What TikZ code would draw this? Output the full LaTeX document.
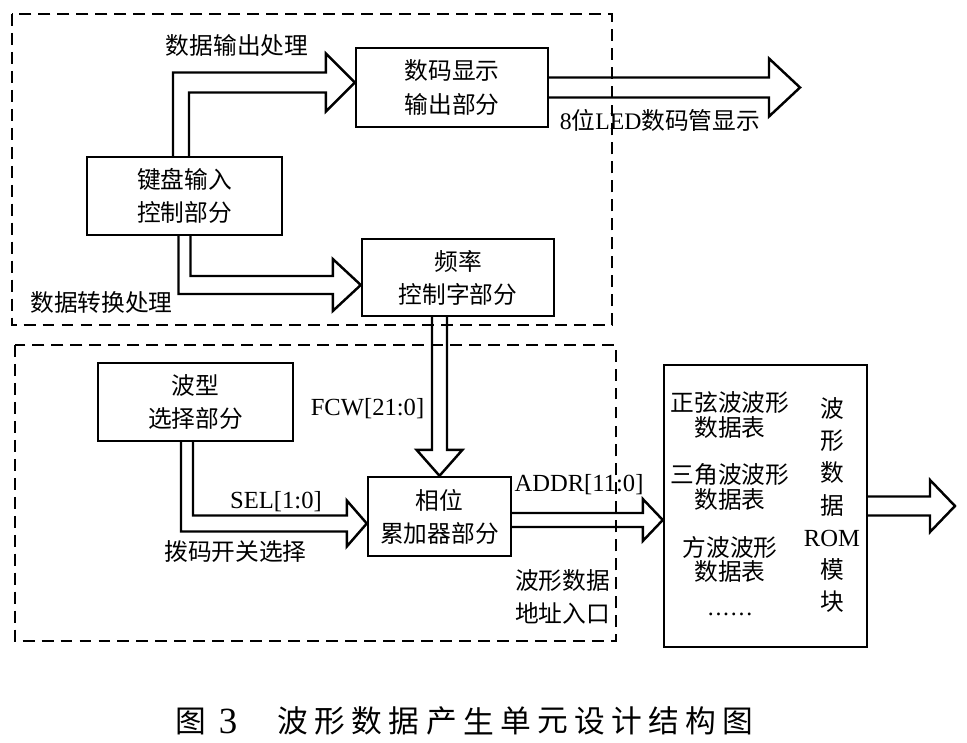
\documentclass[tikz,border=0pt]{standalone}
\usepackage{fontspec}
\setmainfont{Noto Sans CJK SC}
\newfontfamily\lat{Liberation Serif}
\usetikzlibrary{calc}
% hollow bus arrow: (start)(tip)(shaft half:head half:head length)
\def\hfat(#1)(#2)(#3:#4:#5){\draw[fat] ([shift={(0,-#3)}]#1) -- ([shift={(-#5,-#3)}]#2) -- ([shift={(-#5,-#4)}]#2) -- (#2) -- ([shift={(-#5,#4)}]#2) -- ([shift={(-#5,#3)}]#2) -- ([shift={(0,#3)}]#1);}

\begin{document}
\begin{tikzpicture}[x=0.02cm,y=-0.02cm,
	blk/.style={draw, line width=1.4pt, align=center, inner sep=0pt, font=\fontsize{13.5}{18.8}\selectfont},
	lbl/.style={inner sep=0pt, align=center, font=\fontsize{13.5}{18.8}\selectfont},
	sig/.style={inner sep=0pt, font=\lat\fontsize{14}{16}\selectfont},
	romtxt/.style={inner sep=0pt, align=center, font=\fontsize{13.5}{13.7}\selectfont},
	captxt/.style={inner sep=0pt, font=\fontsize{17.5}{17.5}\selectfont},
	grp/.style={draw, line width=1.1pt, dash pattern=on 6.8pt off 4pt},
	fat/.style={draw, line width=1.4pt, line join=miter}]
			%%%%% START %%%%%
			\useasboundingbox (0,0) rectangle (967,743);
			
			\draw[grp] (12,14) rectangle (612,325);
			\draw[grp] (15,345) rectangle (616,641);
			
			\node[blk, minimum width=3.84cm, minimum height=1.58cm] (disp) at (452,87.5) {数码显示\\输出部分};
			\node[blk, minimum width=3.9cm, minimum height=1.56cm] (kb) at (184.5,196) {键盘输入\\控制部分};
			\node[blk, minimum width=3.84cm, minimum height=1.54cm] (freq) at (458,277.5) {频率\\控制字部分};
			\node[blk, minimum width=3.9cm, minimum height=1.56cm] (sel) at (195.5,402) {波型\\选择部分};
			\node[blk, minimum width=2.86cm, minimum height=1.58cm] (acc) at (439.5,516.5) {相位\\累加器部分};
			\node[draw, line width=1.4pt, minimum width=4.06cm, minimum height=5.64cm] (rom) at (765.5,506) {};
			
			% keyboard -> display
			\coordinate (a1) at ([shift={(-3.5,0)}]kb.north);
			\coordinate (t1) at ([shift={(0,-5)}]disp.west);
			\coordinate (b1) at (a1 |- t1);
			\draw[fat] ([shift={(-8,0)}]a1) -- ([shift={(-8,-10)}]b1) -- ([shift={(-29,-10)}]t1) -- ([shift={(-29,-29)}]t1) -- (t1) -- ([shift={(-29,29)}]t1) -- ([shift={(-29,10)}]t1) -- ([shift={(8,10)}]b1) -- ([shift={(8,0)}]a1);
			
			% keyboard -> frequency word
			\coordinate (t2) at ([shift={(0,7.5)}]freq.west);
			\coordinate (b2) at (kb.south |- t2);
			\draw[fat] ([shift={(-6,0)}]kb.south) -- ([shift={(-6,9)}]b2) -- ([shift={(-28,9)}]t2) -- ([shift={(-28,26)}]t2) -- (t2) -- ([shift={(-28,-26)}]t2) -- ([shift={(-28,-9)}]t2) -- ([shift={(6,-9)}]b2) -- ([shift={(6,0)}]kb.south);
			
			% display -> out
			\coordinate (o1) at (800,87.5);
			\hfat(disp.east)(o1)(10:29:31)
			
			% frequency word -> accumulator
			\coordinate (a4) at (acc.north |- freq.south);
			\draw[fat] ([shift={(-7.5,0)}]a4) -- ([shift={(-7.5,-26)}]acc.north) -- ([shift={(-23,-26)}]acc.north) -- (acc.north) -- ([shift={(23,-26)}]acc.north) -- ([shift={(7.5,-26)}]acc.north) -- ([shift={(7.5,0)}]a4);
			
			% wave select -> accumulator
			\coordinate (a5) at ([shift={(-8.5,0)}]sel.south);
			\coordinate (t5) at ([shift={(0,7)}]acc.west);
			\coordinate (b5) at (a5 |- t5);
			\draw[fat] ([shift={(-6,0)}]a5) -- ([shift={(-6,8)}]b5) -- ([shift={(-20,8)}]t5) -- ([shift={(-20,23)}]t5) -- (t5) -- ([shift={(-20,-23)}]t5) -- ([shift={(-20,-8)}]t5) -- ([shift={(6,-8)}]b5) -- ([shift={(6,0)}]a5);
			
			% accumulator -> rom -> out
			\coordinate (s6) at ([shift={(0,3.5)}]acc.east);
			\coordinate (t6) at (s6 -| rom.west);
			\hfat(s6)(t6)(7:21:20)
			\coordinate (o2) at (955,506);
			\hfat(rom.east)(o2)(9.5:26:25)
			
			\node[lbl] (lout) at (237,45) {数据输出处理};
			\node[lbl] (lconv) at (101.5,302) {数据转换处理};
			\node[lbl] (lled) at (660,120) {{\lat 8}位{\lat LED}数码管显示};
			\node[sig] (lfcw) at (367.5,409) {FCW[21:0]};
			\node[sig] (lsel) at (276,502) {SEL[1:0]};
			\node[lbl] (lsw) at (235.5,552) {拨码开关选择};
			\node[sig] (laddr) at (579,485) {ADDR[11:0]};
			\node[lbl] (lentry) at (562.5,596.5) {波形数据\\地址入口};
			
			\node[romtxt] (sine) at (730,415) {正弦波波形\\数据表};
			\node[romtxt] (tri) at (730,487) {三角波波形\\数据表};
			\node[romtxt] (sq) at (730,559) {方波波形\\数据表};
			\node[romtxt] (more) at (730,614) {\lat .\kern1pt.\kern1pt.\kern1pt.\kern1pt.\kern1pt.};
			\node[inner sep=0pt, align=center, font=\fontsize{13.5}{18.4}\selectfont] (romname) at (832,505) {波\\形\\数\\据\\{\lat\fontsize{14}{18.4}\selectfont ROM}\\模\\块};
			
			\node[captxt] (fig) at (191,721) {图};
			\node[captxt] (fignum) at (228,721) {\lat\fontsize{21}{21}\selectfont 3};
			\foreach \c [count=\i from 0] in {波,形,数,据,产,生,单,元,设,计,结,构,图}
				\node[captxt] (cap\i) at (293+37.1*\i,721) {\c};
			
			%%%%% END %%%%%
\end{tikzpicture}
\end{document}
